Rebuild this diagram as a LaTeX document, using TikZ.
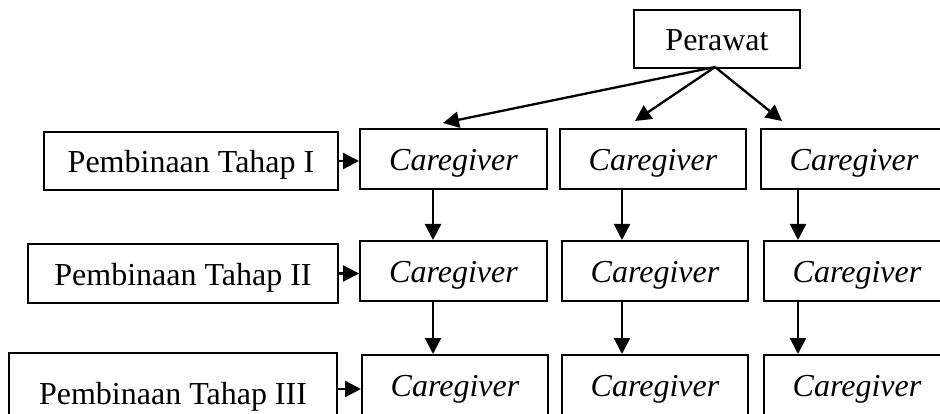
\documentclass[tikz,border=0pt]{standalone}
\usepackage{fontspec}
\setmainfont{Liberation Serif}
\usetikzlibrary{arrows.meta}
\begin{document}
\begin{tikzpicture}[x=1pt,y=-1pt,
  box/.style={draw,line width=2.4pt,rectangle,inner sep=0pt,text height=24pt,text depth=0pt,font=\fontsize{32}{38}\selectfont},
  cg/.style={box,line width=2pt,minimum width=186pt,minimum height=60pt,text height=23pt,font=\fontsize{32}{38}\selectfont\itshape},
  arr/.style={line width=2.3pt,-{Triangle[length=16pt,width=16pt]}}]
\useasboundingbox (0,0) rectangle (940,414);
\clip (0,0) rectangle (940,414);
% top node
\node[box,line width=2pt,minimum width=166pt,minimum height=58pt] (per) at (717,39) {Perawat};
% left column
\node[box,minimum width=294pt,minimum height=58pt] (p1) at (191,161) {Pembinaan Tahap I};
\node[box,minimum width=310pt,minimum height=59pt] (p2) at (183,273.5) {Pembinaan Tahap II};
\node[box,minimum width=328pt,minimum height=78pt] (p3) at (173,392) {Pembinaan Tahap III};
% caregivers
\node[cg,minimum width=187pt] (c11) at (453.5,159) {Caregiver};
\node[cg] (c12) at (653,159) {Caregiver};
\node[cg] (c13) at (854,159) {Caregiver};
\node[cg,minimum width=187pt] (c21) at (453.5,271) {Caregiver};
\node[cg] (c22) at (655,271) {Caregiver};
\node[cg] (c23) at (857,271) {Caregiver};
\node[cg] (c31) at (455,385) {Caregiver};
\node[cg] (c32) at (655,385) {Caregiver};
\node[cg] (c33) at (857,385) {Caregiver};
% perawat arrows
\coordinate (ps) at ([xshift=-2pt,yshift=2pt]per.south);
\draw[arr] (ps) -- ([xshift=-10.5pt,yshift=5pt]c11.north);
\draw[arr] (ps) -- ([xshift=-18pt,yshift=7pt]c12.north);
\draw[arr] (ps) -- ([xshift=-72pt,yshift=7pt]c13.north);
% horizontal arrows
\draw[arr] (p1.east) -- (p1.east -| c11.west);
\draw[arr] (p2.east) -- (p2.east -| c21.west);
\draw[arr] ([yshift=3pt]p3.east) -- ([yshift=3pt]p3.east -| c31.west);
% vertical arrows
\draw[arr] ([xshift=-20.5pt]c11.south) -- ([xshift=-20.5pt]c11.south |- c21.north);
\draw[arr] ([xshift=-31pt]c12.south) -- ([xshift=-31pt]c12.south |- c22.north);
\draw[arr] ([xshift=-56pt]c13.south) -- ([xshift=-56pt]c13.south |- c23.north);
\draw[arr] ([xshift=-20.5pt]c21.south) -- ([xshift=-20.5pt]c21.south |- c31.north);
\draw[arr] ([xshift=-33pt]c22.south) -- ([xshift=-33pt]c22.south |- c32.north);
\draw[arr] ([xshift=-59pt]c23.south) -- ([xshift=-59pt]c23.south |- c33.north);
\end{tikzpicture}
\end{document}
